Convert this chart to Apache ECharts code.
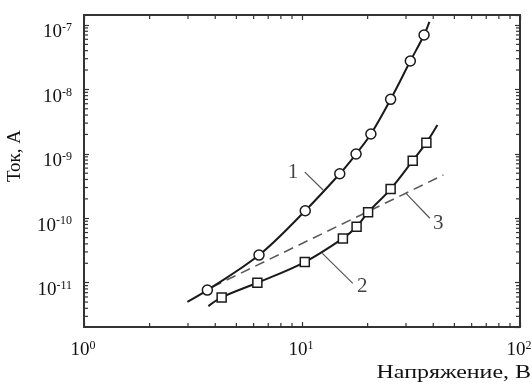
<!DOCTYPE html>
<html><head><meta charset="utf-8">
<script src="https://cdn.jsdelivr.net/npm/echarts@6/dist/echarts.min.js"></script>
<style>html,body{margin:0;padding:0;background:#fff}#c{width:532px;height:387px}</style>
</head><body><div id="c"></div>
<script>
// ---- data ----
const curve1X = [2.98, 3.68, 6.35, 10.35, 14.9, 17.7, 20.7, 25.5, 31.4, 36.3, 38.4];
const curve1Y = [5.05e-12, 7.67e-12, 2.68e-11, 1.31e-10, 4.9e-10, 9.93e-10, 2.03e-9, 7.02e-9, 2.76e-8, 7.0e-8, 1.12e-7];
const curve2X = [3.72, 4.28, 6.24, 10.3, 15.4, 17.8, 20.1, 25.5, 32.2, 37.2, 41.8];
const curve2Y = [4.33e-12, 5.91e-12, 9.96e-12, 2.09e-11, 4.87e-11, 7.38e-11, 1.24e-10, 2.84e-10, 7.81e-10, 1.49e-9, 2.80e-9];
const curve3X = [3.87, 44.5];
const curve3Y = [8.55e-12, 4.69e-10];
// annotation leaders: [x, y] from / to, and label anchors
const leaderNames = ['1', '2', '3'];
const leaderFrom = [[10.3, 5.2e-10], [12.4, 2.85e-11], [30.0, 2.44e-10]];
const leaderTo = [[12.5, 2.74e-10], [17.1, 9.75e-12], [38.6, 1.0e-10]];
const labelAt = [[9.1, 5.1e-10], [18.9, 8.7e-12], [42.2, 8.4e-11]];
// axes
const xMin = 1, xMax = 100;
const yMin = 2.05e-12, yMax = 1.43e-7;
const xMinorTicks = [2,3,4,5,6,7,8,9,20,30,40,50,60,70,80,90];
const yMinorTicks = [3e-12,4e-12,5e-12,6e-12,7e-12,8e-12,9e-12,
  2e-11,3e-11,4e-11,5e-11,6e-11,7e-11,8e-11,9e-11,
  2e-10,3e-10,4e-10,5e-10,6e-10,7e-10,8e-10,9e-10,
  2e-9,3e-9,4e-9,5e-9,6e-9,7e-9,8e-9,9e-9,
  2e-8,3e-8,4e-8,5e-8,6e-8,7e-8,8e-8,9e-8];
const xAxisTitle = 'Напряжение, В';
const yAxisTitle = 'Ток, А';

const FONT = 'Liberation Serif';
const AX = '#333';
const TXT = '#111';
const zip = (a, b) => a.map((v, i) => [v, b[i]]);

function powLabel(v) {
  const e = Math.round(Math.log10(v));
  return '{b|10}{s|' + e + '}';
}
const rich = {
  b: {fontFamily: FONT, fontSize: 19, color: TXT, verticalAlign: 'bottom', lineHeight: 20},
  s: {fontFamily: FONT, fontSize: 12, color: TXT, verticalAlign: 'top', lineHeight: 12}
};

function baseLog(extra) {
  return Object.assign({
    type: 'log', logBase: 10,
    axisLine: {show: true, lineStyle: {color: AX, width: 2}},
    axisTick: {show: true, inside: true, length: 5, lineStyle: {color: AX, width: 1.2}},
    splitLine: {show: false},
    minorTick: {show: false},
    axisLabel: {show: false}
  }, extra);
}

const chart = echarts.init(document.getElementById('c'));
const lineStyleSolid = {color: '#1a1a1a', width: 2};

const annotSeries = leaderNames.map((n, i) => ({
  type: 'line', xAxisIndex: 0, yAxisIndex: 0,
  data: [leaderFrom[i], leaderTo[i]],
  showSymbol: false, silent: true,
  lineStyle: {color: '#555', width: 1.2},
  z: 3
}));

const withEnds = (xs, ys, sym) => zip(xs, ys).map((p, i, a) => ({
  value: p, symbol: (i === 0 || i === a.length - 1) ? 'none' : sym
}));

chart.setOption({
  animation: false,
  backgroundColor: '#fff',
  grid: {left: 84, top: 15, width: 436, height: 312, containLabel: false, outerBoundsMode: 'none'},
  xAxis: [
    baseLog({min: xMin, max: xMax, position: 'bottom',
      axisLabel: {show: true, margin: 13, formatter: powLabel, rich: rich, showMinLabel: true, showMaxLabel: true,
        alignMinLabel: 'center', alignMaxLabel: 'center', padding: [0, 2, 0, 0]}}),
    baseLog({min: xMin, max: xMax, position: 'top'})
  ],
  yAxis: [
    baseLog({min: yMin, max: yMax, position: 'left',
      name: yAxisTitle, nameLocation: 'middle', nameGap: 59,
      nameTextStyle: {fontFamily: FONT, fontSize: 19, color: TXT, padding: [0, 0, 0, 30]},
      axisLabel: {show: true, margin: 12, formatter: powLabel, rich: rich, showMinLabel: false, showMaxLabel: false, padding: [14, 0, 0, 0]}}),
    baseLog({min: yMin, max: yMax, position: 'right'})
  ],
  graphic: [{
    type: 'text', x: 531, y: 373, scaleX: 1.33,
    style: {text: xAxisTitle, fontFamily: FONT, fontSize: 18, fill: TXT, align: 'right', verticalAlign: 'middle'}
  }],
  series: [
    {type: 'custom', xAxisIndex: 0, yAxisIndex: 0, silent: true, clip: false,
      data: xMinorTicks.map(v => [v, yMin]),
      renderItem: function (params, api) {
        const cs = params.coordSys;
        const px = api.coord([api.value(0), yMin])[0];
        const st = {stroke: AX, lineWidth: 1.2};
        return {type: 'group', children: [
          {type: 'line', shape: {x1: px, y1: cs.y + cs.height, x2: px, y2: cs.y + cs.height - 4}, style: st},
          {type: 'line', shape: {x1: px, y1: cs.y, x2: px, y2: cs.y + 4}, style: st}
        ]};
      }},
    {type: 'custom', xAxisIndex: 0, yAxisIndex: 0, silent: true, clip: false,
      data: yMinorTicks.map(v => [xMin, v]),
      renderItem: function (params, api) {
        const cs = params.coordSys;
        const py = api.coord([xMin, api.value(1)])[1];
        const st = {stroke: AX, lineWidth: 1.2};
        return {type: 'group', children: [
          {type: 'line', shape: {x1: cs.x, y1: py, x2: cs.x + 4, y2: py}, style: st},
          {type: 'line', shape: {x1: cs.x + cs.width, y1: py, x2: cs.x + cs.width - 4, y2: py}, style: st}
        ]};
      }},
    {name: '3', type: 'line', data: zip(curve3X, curve3Y), showSymbol: false,
      lineStyle: {color: '#5a5a5a', width: 1.6, type: [10, 6]}, z: 2},
    {name: '1', type: 'line', data: withEnds(curve1X, curve1Y, 'circle'), smooth: 0.35,
      symbol: 'circle', symbolSize: 10, showAllSymbol: true,
      itemStyle: {color: '#fff', borderColor: '#1a1a1a', borderWidth: 1.5},
      lineStyle: lineStyleSolid, z: 4},
    {name: '2', type: 'line', data: withEnds(curve2X, curve2Y, 'rect'), smooth: 0.35,
      symbol: 'rect', symbolSize: 9, showAllSymbol: true,
      itemStyle: {color: '#fff', borderColor: '#1a1a1a', borderWidth: 1.5},
      lineStyle: lineStyleSolid, z: 4},
    ...annotSeries,
    {type: 'scatter', data: labelAt.map((p, i) => ({value: p, name: leaderNames[i]})),
      symbolSize: 0, silent: true,
      label: {show: true, position: 'inside', formatter: '{b}', fontFamily: FONT, fontSize: 21, color: TXT}, z: 5}
  ]
});
</script></body></html>
